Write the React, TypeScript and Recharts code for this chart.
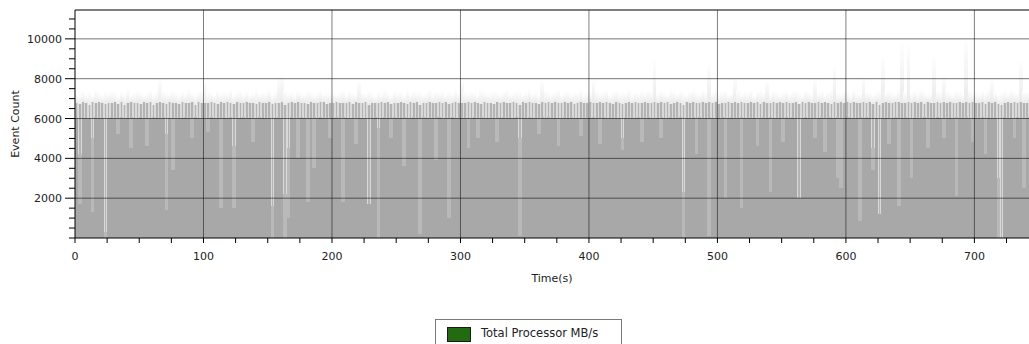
import React from 'react';
import { ComposedChart, Bar, XAxis, YAxis, ReferenceLine, Legend } from 'recharts';

// Per-sample (2.5 s buckets, t = 0 .. 742.5 s) event-count envelope
// lower: level covered by nearly all samples in the bucket
const LOWER = [
  6000, 1700, 6010, 5990, 6000, 1300, 6020, 5980, 6000, 0,
  5990, 6010, 6000, 5200, 6000, 5980, 6020, 4500, 6000, 5990,
  6010, 6000, 4600, 5990, 6000, 6020, 5980, 6000, 1400, 6010,
  3400, 6000, 5990, 6010, 6000, 5980, 5000, 6020, 6000, 5990,
  6000, 5300, 6010, 5990, 6000, 1500, 6020, 6000, 5980, 1500,
  6000, 6010, 5990, 6000, 6020, 4800, 5980, 6000, 6010, 5990,
  6000, 0, 6010, 5990, 6000, 0, 1000, 6020, 5980, 4000,
  6000, 6010, 1800, 5990, 3500, 6000, 6020, 5980, 6000, 5000,
  6010, 5990, 6000, 1800, 6020, 6000, 5980, 4700, 6010, 6000,
  5990, 1700, 6000, 6020, 0, 5980, 6000, 6010, 5000, 5990,
  6000, 6020, 3600, 5980, 6000, 6010, 5990, 200, 6000, 6020,
  5980, 6000, 3900, 6010, 5990, 6000, 1000, 6020, 5980, 6000,
  6010, 5990, 4500, 6000, 6020, 5000, 5980, 6000, 6010, 5990,
  6000, 4800, 6020, 5980, 6000, 6010, 5990, 6000, 100, 6020,
  5980, 6000, 6010, 5990, 5200, 6000, 6020, 5980, 6000, 6010,
  4600, 5990, 6000, 6020, 5980, 6000, 6010, 5100, 5990, 6000,
  6020, 5980, 6000, 4700, 6010, 5990, 6000, 6020, 5980, 6000,
  4400, 6010, 5990, 6000, 6020, 5980, 4800, 6000, 6010, 5990,
  6000, 6020, 5000, 5980, 6000, 6010, 5990, 6000, 6020, 0,
  5980, 6000, 6010, 4200, 5990, 6000, 6020, 100, 5980, 6000,
  6010, 5990, 2000, 6000, 6020, 5980, 6000, 1500, 6010, 5990,
  6000, 6020, 4600, 5980, 6000, 6010, 2300, 5990, 6000, 6020,
  4800, 5980, 6000, 6010, 5990, 2000, 6000, 6020, 5980, 6000,
  5000, 6010, 5990, 4300, 6000, 6020, 5980, 3000, 2500, 6000,
  6010, 5990, 6000, 6020, 850, 5980, 6000, 6010, 3400, 5990,
  1200, 6000, 6020, 4700, 5980, 6000, 1600, 6010, 5990, 6000,
  3000, 6020, 5980, 6000, 6010, 4500, 5990, 6000, 6020, 5980,
  5000, 6000, 6010, 5990, 2100, 6000, 6020, 5980, 6000, 4800,
  6010, 5990, 6000, 4200, 6020, 5980, 6000, 0, 0, 6010,
  5990, 6000, 5000, 6020, 5980, 2500, 6000,
];

// upper: level reached by most samples (deep white streaks where it drops)
const UPPER = [
  6040, 4200, 6060, 6030, 6050, 5000, 6070, 6040, 6050, 300,
  6030, 6060, 6050, 6040, 6070, 6030, 6050, 6060, 6040, 6050,
  6060, 6040, 6050, 6030, 6070, 6050, 6040, 6060, 5200, 6050,
  6040, 6060, 6030, 6050, 6070, 6040, 6050, 6060, 6030, 6050,
  6050, 6040, 6060, 6030, 6050, 6070, 6040, 6050, 6060, 4600,
  6040, 6050, 6060, 6030, 6070, 6050, 6040, 6060, 6050, 6030,
  6050, 1600, 6040, 6060, 6050, 2200, 4500, 6070, 6040, 6050,
  6060, 6030, 6050, 6040, 6070, 6050, 6060, 6040, 6030, 6050,
  6050, 6060, 6040, 6070, 6030, 6050, 6040, 6060, 6050, 6030,
  6040, 1700, 6050, 6060, 5500, 6040, 6070, 6030, 6050, 6060,
  6050, 6040, 6060, 6030, 6050, 6070, 6040, 6050, 6060, 6030,
  6040, 6050, 6060, 6070, 6030, 6050, 6040, 6060, 6050, 6040,
  6060, 6030, 6050, 6040, 6070, 6050, 6060, 6040, 6030, 6050,
  6050, 6060, 6040, 6070, 6030, 6050, 6040, 6060, 5000, 6040,
  6050, 6060, 6030, 6050, 6040, 6070, 6050, 6060, 6040, 6030,
  6050, 6040, 6060, 6050, 6070, 6030, 6050, 6040, 6060, 6050,
  6040, 6060, 6030, 6050, 6070, 6040, 6050, 6060, 6030, 6050,
  5000, 6040, 6060, 6050, 6030, 6070, 6040, 6050, 6060, 6040,
  6050, 6030, 6060, 6050, 6040, 6070, 6050, 6030, 6060, 2300,
  6040, 6050, 6060, 6030, 6070, 6040, 6050, 6060, 6040, 6050,
  6030, 6060, 6050, 6040, 6070, 6050, 6030, 6060, 6040, 6050,
  6060, 6040, 6050, 6030, 6070, 6050, 6060, 6040, 6050, 6030,
  6050, 6060, 6040, 6070, 6030, 2000, 6050, 6060, 6040, 6050,
  6040, 6050, 6060, 6030, 6070, 6040, 6050, 6060, 6040, 6050,
  6060, 6030, 6050, 6040, 6070, 6050, 6060, 6040, 4500, 6050,
  1200, 6040, 6060, 6050, 6030, 6070, 6040, 6050, 6060, 6030,
  6050, 6040, 6060, 6050, 6070, 6030, 6050, 6040, 6060, 6050,
  6040, 6060, 6030, 6050, 6070, 6040, 6050, 6060, 6030, 6050,
  6050, 6040, 6060, 6030, 6070, 6050, 6040, 3000, 0, 6060,
  6040, 6050, 6030, 6070, 6040, 6050, 6060,
];

// high: typical bucket maximum (striped band above 6000)
const HIGH = [
  6800, 6750, 6820, 6780, 6700, 6810, 6760, 6830, 6790, 6720,
  6800, 6770, 6840, 6750, 6810, 6690, 6790, 6820, 6760, 6800,
  6740, 6830, 6780, 6810, 6700, 6790, 6820, 6770, 6750, 6840,
  6780, 6800, 6730, 6820, 6790, 6760, 6810, 6700, 6830, 6780,
  6800, 6760, 6820, 6790, 6740, 6810, 6780, 6830, 6770, 6720,
  6810, 6790, 6760, 6830, 6780, 6800, 6710, 6820, 6790, 6770,
  6840, 6750, 6800, 6780, 6820, 6690, 6790, 6810, 6760, 6830,
  6780, 6800, 6740, 6820, 6790, 6770, 6810, 6830, 6720, 6800,
  6790, 6820, 6760, 6800, 6780, 6840, 6750, 6810, 6790, 6770,
  6820, 6700, 6800, 6780, 6760, 6830, 6790, 6810, 6740, 6800,
  6770, 6820, 6790, 6750, 6810, 6780, 6830, 6700, 6800, 6790,
  6820, 6760, 6800, 6840, 6780, 6810, 6730, 6790, 6820, 6770,
  6800, 6780, 6810, 6760, 6830, 6790, 6750, 6820, 6800, 6780,
  6740, 6810, 6790, 6830, 6770, 6800, 6820, 6760, 6690, 6810,
  6790, 6830, 6780, 6800, 6750, 6820, 6790, 6810, 6770, 6840,
  6760, 6800, 6820, 6780, 6810, 6740, 6790, 6830, 6800, 6770,
  6820, 6790, 6760, 6810, 6800, 6840, 6780, 6750, 6820, 6790,
  6710, 6800, 6830, 6770, 6810, 6790, 6760, 6820, 6800, 6780,
  6830, 6760, 6810, 6790, 6820, 6740, 6800, 6830, 6780, 6700,
  6810, 6790, 6820, 6760, 6800, 6840, 6770, 6810, 6790, 6820,
  6750, 6800, 6780, 6830, 6790, 6810, 6760, 6820, 6800, 6770,
  6840, 6790, 6810, 6750, 6820, 6800, 6780, 6830, 6760, 6810,
  6790, 6820, 6770, 6800, 6840, 6720, 6810, 6790, 6820, 6760,
  6800, 6830, 6780, 6810, 6790, 6750, 6820, 6800, 6840, 6770,
  6810, 6790, 6830, 6760, 6800, 6820, 6780, 6810, 6740, 6830,
  6700, 6800, 6820, 6790, 6760, 6830, 6810, 6780, 6800, 6840,
  6770, 6820, 6790, 6810, 6750, 6830, 6800, 6780, 6820, 6760,
  6810, 6790, 6840, 6770, 6800, 6820, 6760, 6810, 6790, 6830,
  6780, 6800, 6820, 6750, 6810, 6790, 6830, 6720, 6690, 6800,
  6820, 6780, 6810, 6790, 6840, 6760, 6800,
];

// peak: rare bucket maxima (faint haze and spikes)
const PEAK = [
  7300, 7200, 7400, 7250, 7350, 7150, 7450, 7300, 7200, 7350,
  7250, 7400, 7300, 7150, 7350, 7250, 7450, 7200, 7300, 7400,
  7350, 7200, 7300, 7450, 7250, 7350, 8000, 7400, 7300, 7250,
  7400, 7300, 7200, 7350, 7250, 7450, 7300, 7200, 7350, 7400,
  7900, 7350, 7300, 7150, 7400, 7250, 7350, 7300, 7450, 7200,
  7300, 7400, 7250, 7350, 7200, 7300, 7450, 7250, 7350, 7300,
  7400, 7200, 7350, 8100, 8300, 7450, 7250, 7350, 7200, 7400,
  7300, 7250, 7400, 7350, 7200, 7300, 7450, 7250, 7350, 7300,
  7350, 7200, 7300, 7450, 7250, 7400, 7300, 7200, 7900, 7350,
  7250, 7400, 7300, 7150, 7350, 7250, 7450, 7300, 7200, 7400,
  7300, 7350, 7200, 7450, 7250, 7400, 7300, 7350, 7200, 7300,
  7450, 7250, 7350, 7300, 7400, 7200, 7350, 7250, 7450, 7300,
  8000, 7350, 7250, 7400, 7300, 7200, 7450, 7350, 7250, 7300,
  7400, 7300, 7200, 7350, 7450, 7250, 7300, 7400, 7350, 7200,
  7300, 7450, 7250, 7350, 7200, 7900, 7400, 7300, 7250, 7350,
  7450, 7200, 7300, 7400, 7250, 7350, 7300, 7450, 7200, 7350,
  7300, 8000, 7400, 7250, 7350, 7450, 7200, 7300, 7400, 7250,
  7350, 7300, 7450, 7200, 7350, 7250, 7400, 7300, 7450, 7350,
  9000, 7250, 7400, 7300, 7200, 7450, 7350, 7250, 7400, 7300,
  7200, 7350, 7450, 7300, 7250, 7400, 7350, 8800, 7300, 7450,
  7250, 7350, 7400, 7200, 7300, 8100, 7450, 7250, 7350, 7300,
  7400, 7200, 7350, 7450, 7300, 7900, 7250, 7400, 7350, 7200,
  7300, 7450, 7250, 7350, 7400, 7300, 7200, 7450, 7350, 7250,
  8000, 7300, 7400, 7200, 7350, 7450, 8800, 7300, 7250, 7400,
  7350, 7200, 7450, 7300, 7250, 8100, 7400, 7350, 7200, 7300,
  7450, 9200, 7350, 7400, 7300, 7250, 7450, 9800, 7350, 9900,
  7300, 7400, 7250, 7450, 7350, 7200, 7300, 9200, 7400, 7350,
  8200, 7450, 7300, 7250, 7400, 7350, 7200, 10200, 7450, 7300,
  7350, 7250, 7400, 7300, 7450, 8000, 7350, 7200, 7300, 7400,
  7250, 7450, 7350, 7300, 9000, 7400, 7350,
];

const SAMPLE_STEP = 2.5; // seconds per bucket
const X_TICKS = [0, 25, 50, 75, 100, 125, 150, 175, 200, 225, 250, 275, 300, 325, 350, 375, 400, 425, 450, 475, 500, 525, 550, 575, 600, 625, 650, 675, 700, 725];
const X_LABELED = [0, 100, 200, 300, 400, 500, 600, 700];
const Y_TICKS = [0, 500, 1000, 1500, 2000, 2500, 3000, 3500, 4000, 4500, 5000, 5500, 6000, 6500, 7000, 7500, 8000, 8500, 9000, 9500, 10000, 10500, 11000];
const Y_LABELED = [2000, 4000, 6000, 8000, 10000];
const X_GRID = [100, 200, 300, 400, 500, 600, 700];
const Y_GRID = [2000, 4000, 6000, 8000, 10000];
const X_DOMAIN: [number, number] = [0, 742.5];
const Y_DOMAIN: [number, number] = [0, 11450];
const SERIES_NAME = 'Total Processor MB/s';
const X_TITLE = 'Time(s)';
const Y_TITLE = 'Event Count';

const FONT = '"DejaVu Sans", Verdana, sans-serif';
const TEXT = '#222';

// stacked layers: lower | upper-lower | high-upper | peak-high
const data = LOWER.map((v, i) => ({
  t: SAMPLE_STEP * i + SAMPLE_STEP / 2,
  lower: v,
  upperPart: UPPER[i] - v,
  highPart: HIGH[i] - UPPER[i],
  peakPart: PEAK[i] - HIGH[i],
}));

// bars slightly widened and pixel-snapped so neighbouring buckets touch without seams
const Seg = (props: any) => {
  const { x, y, width, height, fill } = props;
  if (!(height > 0)) return null;
  return <rect x={x - 0.3} y={y} width={width + 0.6} height={height} fill={fill} shapeRendering="crispEdges" />;
};

const StripeShape = (props: any) => {
  const { x, y, width, height } = props;
  if (!(height > 0)) return null;
  const cx = x + width / 2;
  return (
    <g shapeRendering="crispEdges">
      <rect x={x - 0.3} y={y} width={width + 0.6} height={height} fill="#d9d9d9" />
      <rect x={cx - 0.8} y={y} width={1.6} height={height} fill="#b4b4b4" />
    </g>
  );
};

const XTick = (props: any) => {
  const { x, y, payload } = props;
  const v = payload.value;
  return (
    <g>
      <line x1={x} x2={x} y1={y} y2={y + 5} stroke="#000" strokeWidth={1} />
      {X_LABELED.includes(v) && (
        <text x={x} y={y + 22} textAnchor="middle" fontSize={11} fontFamily={FONT} fill={TEXT}>
          {v}
        </text>
      )}
    </g>
  );
};

const YTick = (props: any) => {
  const { x, y, payload } = props;
  const v = payload.value;
  const major = Y_LABELED.includes(v);
  return (
    <g>
      <line x1={x - (major ? 10 : 6)} x2={x} y1={y} y2={y} stroke="#000" strokeWidth={1} />
      {major && (
        <text x={x - 13} y={y + 4} textAnchor="end" fontSize={11} fontFamily={FONT} fill={TEXT}>
          {v}
        </text>
      )}
    </g>
  );
};

const XTitle = (props: any) => {
  const vb = props.viewBox;
  return (
    <text x={vb.x + vb.width / 2} y={vb.y + 44} textAnchor="middle" fontSize={11} fontFamily={FONT} fill={TEXT}>
      {X_TITLE}
    </text>
  );
};

const YTitle = (props: any) => {
  const vb = props.viewBox;
  const cx = 19;
  const cy = vb.y + vb.height / 2;
  return (
    <text x={cx} y={cy} transform={`rotate(-90, ${cx}, ${cy})`} textAnchor="middle" fontSize={11} fontFamily={FONT} fill={TEXT}>
      {Y_TITLE}
    </text>
  );
};

const LegendBox = () => (
  <div
    style={{
      border: '1px solid #7a7a7a',
      width: 187,
      height: 28,
      boxSizing: 'border-box',
      position: 'relative',
      fontFamily: FONT,
      fontSize: 11.5,
      color: TEXT,
      background: '#fff',
    }}
  >
    <div
      style={{
        position: 'absolute',
        left: 11,
        top: 7,
        width: 24,
        height: 15,
        boxSizing: 'border-box',
        background: '#236b10',
        border: '1px solid #1a1a1a',
      }}
    />
    <div style={{ position: 'absolute', left: 45, top: 6, whiteSpace: 'nowrap', lineHeight: '14px' }}>{SERIES_NAME}</div>
  </div>
);

export default function App() {
  return (
    <div style={{ position: 'absolute', left: 0, top: 0, width: 1029, height: 344, overflow: 'hidden', background: '#fff' }}>
      <ComposedChart
        width={1029}
        height={344}
        data={data}
        margin={{ top: 10, right: 0, bottom: 46, left: 0 }}
        barCategoryGap={0}
        barGap={0}
      >
        <defs>
          <linearGradient id="peakGrad" x1="0" y1="0" x2="0" y2="1">
            <stop offset="0" stopColor="#ffffff" />
            <stop offset="1" stopColor="#ebebeb" />
          </linearGradient>
        </defs>
        <XAxis
          dataKey="t"
          type="number"
          domain={X_DOMAIN}
          allowDataOverflow
          ticks={X_TICKS}
          interval={0}
          height={60}
          tickSize={0}
          tickMargin={0}
          tick={<XTick />}
          tickLine={false}
          axisLine={{ stroke: '#000' }}
          label={<XTitle />}
        />
        <YAxis
          type="number"
          domain={Y_DOMAIN}
          allowDataOverflow
          ticks={Y_TICKS}
          interval={0}
          width={75}
          tickSize={0}
          tickMargin={0}
          tick={<YTick />}
          tickLine={false}
          axisLine={{ stroke: '#000' }}
          label={<YTitle />}
        />
        <Bar stackId="s" dataKey="lower" name={SERIES_NAME} fill="#a8a8a8" shape={<Seg />} isAnimationActive={false} />
        <Bar stackId="s" dataKey="upperPart" fill="#b9b9b9" shape={<Seg />} isAnimationActive={false} legendType="none" />
        <Bar stackId="s" dataKey="highPart" fill="#d9d9d9" shape={<StripeShape />} isAnimationActive={false} legendType="none" />
        <Bar stackId="s" dataKey="peakPart" fill="url(#peakGrad)" shape={<Seg />} isAnimationActive={false} legendType="none" />
        {Y_GRID.map((v) => (
          <ReferenceLine key={`y${v}`} y={v} stroke="rgba(0,0,0,0.55)" strokeWidth={1} />
        ))}
        {X_GRID.map((v) => (
          <ReferenceLine key={`x${v}`} x={v} stroke="rgba(0,0,0,0.5)" strokeWidth={1} />
        ))}
        <ReferenceLine y={Y_DOMAIN[1]} stroke="#000" strokeWidth={1} />
        <Legend
          verticalAlign="middle"
          align="center"
          layout="horizontal"
          content={<LegendBox />}
          wrapperStyle={{ left: 435, top: 319, width: 'auto', height: 'auto' }}
        />
      </ComposedChart>
    </div>
  );
}
